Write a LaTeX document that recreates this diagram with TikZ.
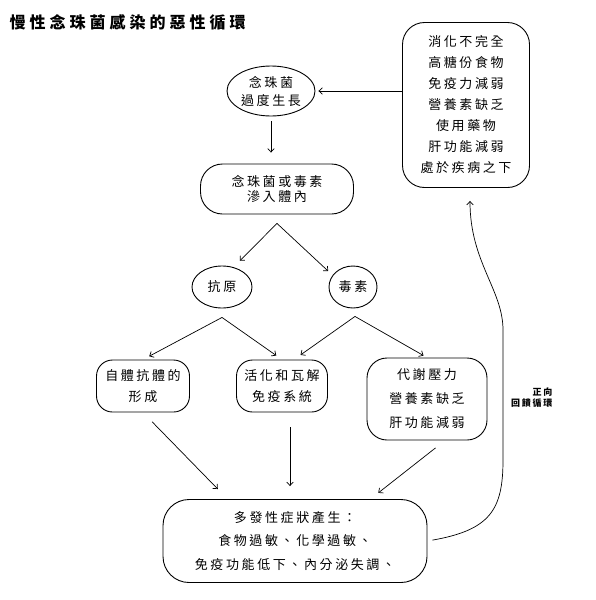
\documentclass[tikz,border=0pt]{standalone}
\usepackage{fontspec}
\setmainfont{Noto Sans CJK TC}[LetterSpace=20]
\newfontfamily\titlefont{Noto Sans CJK TC}[LetterSpace=25]
\usepackage{tikz}
\usetikzlibrary{shapes,arrows,arrows.meta,positioning}

\begin{document}
\begin{tikzpicture}[x=1pt, y=-1pt, >={Straight Barb[length=3.5pt,width=6.5pt]},
    bubble/.style={draw, ellipse, line width=0.9pt, inner sep=0pt, align=center, font=\fontsize{13}{18}\selectfont},
    capsule/.style={draw, rectangle, line width=0.9pt, rounded corners=18pt, inner sep=0pt, align=center, font=\fontsize{13}{21}\selectfont},
    flow/.style={->, line width=0.7pt}]
    \useasboundingbox (0,0) rectangle (596,600);
    % title
    \node[anchor=west, font=\titlefont\fontsize{16}{18}\selectfont\bfseries] (title) at (6,22) {慢性念珠菌感染的惡性循環};
    % causes and the loop start
    \node[capsule, minimum width=127pt, minimum height=165pt, rounded corners=22pt] (cause) at (466,105) {消化不完全\\高糖份食物\\免疫力減弱\\營養素缺乏\\使用藥物\\肝功能減弱\\處於疾病之下};
    \node[bubble, minimum width=88pt, minimum height=50pt] (fung) at (271,91) {念珠菌\\過度生長};
    \node[capsule, minimum width=153pt, minimum height=50pt, rounded corners=22pt, font=\fontsize{13}{15.5}\selectfont] (entry) at (277,189) {念珠菌或毒素\\滲入體內};
    \node[bubble, minimum width=60pt, minimum height=42pt] (ag) at (222,287) {抗原};
    \node[bubble, minimum width=48pt, minimum height=42pt] (tox) at (353,287) {毒素};
    % effects
    \node[capsule, minimum width=93pt, minimum height=52pt, rounded corners=16pt] (auto) at (143,386) {自體抗體的\\形成};
    \node[capsule, minimum width=91pt, minimum height=52pt, rounded corners=16pt] (immune) at (282,386) {活化和瓦解\\免疫系統};
    \node[capsule, minimum width=120pt, minimum height=82pt, rounded corners=20pt, font=\fontsize{13}{24}\selectfont] (stress) at (427,399) {代謝壓力\\營養素缺乏\\肝功能減弱};
    \node[capsule, minimum width=264pt, minimum height=83pt, rounded corners=26pt, font=\fontsize{13}{23.5}\selectfont] (sym) at (295,541) {多發性症狀產生：\\食物過敏、化學過敏、\\免疫功能低下、內分泌失調、};
    \node[anchor=east, align=right, font=\fontsize{9}{11}\selectfont\bfseries] (loop) at (556,398) {正向\\回饋循環};

    \coordinate (s1) at ([yshift=-9pt]entry.south);
    \coordinate (s2) at ([yshift=-9pt]ag.south);
    \coordinate (s3) at ([xshift=2pt,yshift=-8pt]tox.south);
    \draw[flow, shorten >=3pt] (cause.west |- fung.east) -- (fung.east);
    \draw[flow, shorten <=5pt, shorten >=11pt] (fung.south) -- (fung.south |- entry.north);
    \draw[flow, shorten >=9pt] (s1) -- (ag.60);
    \draw[flow, shorten >=6pt] (s1) -- (tox.150);
    \draw[flow, shorten >=7pt] (s2) -- (auto.north);
    \draw[flow, shorten >=7pt] (s2) -- (immune.north);
    \draw[flow, shorten >=8pt] (s3) -- ([xshift=12pt]immune.north);
    \draw[flow, shorten >=4pt] (s3) -- (stress.north);
    \draw[flow, shorten <=13pt, shorten >=14pt] (auto.south) -- ([xshift=65pt]sym.north west);
    \draw[flow, shorten <=15pt, shorten >=13pt] ([xshift=8pt]immune.south) -- ([xshift=-5pt]sym.north);
    \draw[flow, shorten <=12pt, shorten >=10pt] ([xshift=18pt]stress.south) -- ([xshift=-57pt]sym.north east);
    % feedback loop
    \draw[flow, shorten <=5pt] (sym.east) .. controls (490,530) and (503,510) .. (503,460) -- (503,330) .. controls (503,290) and (470,262) .. ([xshift=4pt,yshift=-13pt]cause.south);
\end{tikzpicture}
\end{document}
